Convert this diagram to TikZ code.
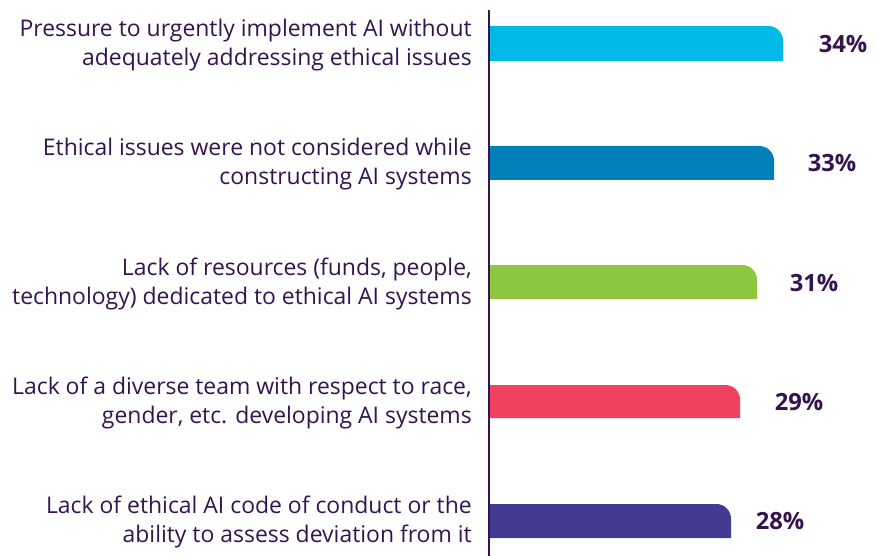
\documentclass[tikz,border=0pt]{standalone}
\usepackage{fontspec}
\setmainfont{Open Sans}
\usetikzlibrary{positioning}
\definecolor{ink}{HTML}{35134F}
\definecolor{cyanbar}{HTML}{00B9E6}
\definecolor{bluebar}{HTML}{0080B8}
\definecolor{greenbar}{HTML}{8DC63F}
\definecolor{redbar}{HTML}{F0415F}
\definecolor{purplebar}{HTML}{433B92}
\tikzset{lbl/.style={anchor=east,align=right,text=ink,font=\fontsize{17.2}{22}\selectfont,inner sep=0pt},
pct/.style={text=ink,font=\fontsize{17.8}{20}\selectfont\bfseries,inner sep=0pt},
bar/.style={rounded corners=11pt}}

\begin{document}
\begin{tikzpicture}[x=0.75pt,y=-0.75pt]
\useasboundingbox (0,0) rectangle (875,556);
\node(L1) at (472,45) [lbl] {Pressure to urgently implement AI without\\adequately addressing ethical issues};
\node(L2) at (472,164) [lbl] {Ethical issues were not considered while\\constructing AI systems};
\node(L3) at (472,284) [lbl] {Lack of resources (funds, people,\\technology) dedicated to ethical AI systems};
\node(L4) at (472,403) [lbl] {Lack of a diverse team with respect to race,\\gender, etc. developing AI systems};
\node(L5) at (472,522) [lbl] {Lack of ethical AI code of conduct or the\\ability to assess deviation from it};

\fill[cyanbar] (490,61) -- (490,26) [bar] -- (783,26) [sharp corners] -- (783,61) -- cycle;
\fill[bluebar] (490,180) -- (490,146) [bar] -- (774,146) [sharp corners] -- (774,180) -- cycle;
\fill[greenbar] (490,299) -- (490,265) [bar] -- (757,265) [sharp corners] -- (757,299) -- cycle;
\fill[redbar] (490,418) -- (490,385) [bar] -- (740,385) [sharp corners] -- (740,418) -- cycle;
\fill[purplebar] (490,538) -- (490,504) [bar] -- (731,504) [sharp corners] -- (731,538) -- cycle;

\node(P1) at (843,44) [pct] {34\%};
\node(P2) at (832,163) [pct] {33\%};
\node(P3) at (814,283) [pct] {31\%};
\node(P4) at (799,402) [pct] {29\%};
\node(P5) at (780,521) [pct] {28\%};

\draw[ink,line width=1.8pt] (489,10) -- (489,556);
\end{tikzpicture}
\end{document}
